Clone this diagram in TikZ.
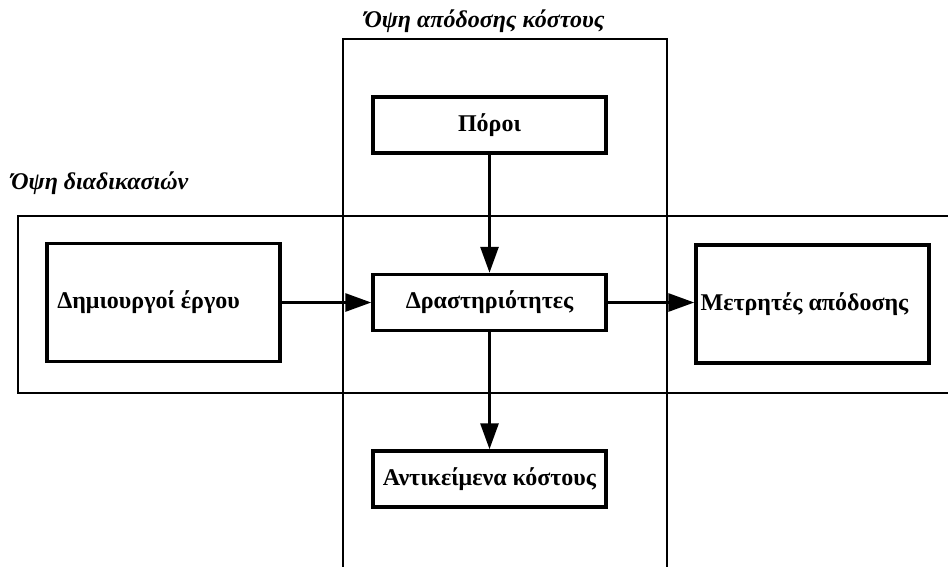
\documentclass[tikz,border=0pt]{standalone}
\usepackage{fontspec}
\setmainfont{Liberation Serif}
\usetikzlibrary{arrows.meta}
\begin{document}
\begin{tikzpicture}[x=1pt,y=-1pt,
        blk/.style={draw,line width=3.5pt,minimum width=233pt,minimum height=56pt,inner sep=0pt,
                font=\fontsize{24}{28}\selectfont\bfseries},
        tallblk/.style={blk,minimum height=118pt},
        band/.style={line width=1.2pt},
        flow/.style={line width=3pt,-{Triangle[length=26pt,width=18pt]}},
        viewlbl/.style={font=\fontsize{24}{28}\selectfont\bfseries\itshape,inner sep=0pt}]
        \useasboundingbox (0,0) rectangle (948,566);
        \draw[band] (343,570) -- (343,39) -- (667,39) -- (667,570);
        \draw[band] (952,216) -- (18,216) -- (18,393) -- (952,393);
        \node[viewlbl] (vcost) at (484.5,21) {Όψη απόδοσης κόστους};
        \node[viewlbl,anchor=west] (vproc) at (11,183) {Όψη διαδικασιών};
        \node[blk] (res) at (489.5,125) {Πόροι};
        \node[blk] (act) at (489.5,302.5) {Δραστηριότητες};
        \node[blk] (cobj) at (489.5,479) {Αντικείμενα κόστους};
        \node[tallblk] (drv) at (163.5,302.5) {\hspace*{-30pt}Δημιουργοί έργου};
        \node[tallblk] (meas) at (812.5,304) {\hspace*{-16pt}Μετρητές απόδοσης};
        \draw[flow] (res) -- (act);
        \draw[flow] (drv) -- (act);
        \draw[flow] (act) -- (meas.west |- act);
        \draw[flow] (act) -- (cobj);
\end{tikzpicture}
\end{document}
